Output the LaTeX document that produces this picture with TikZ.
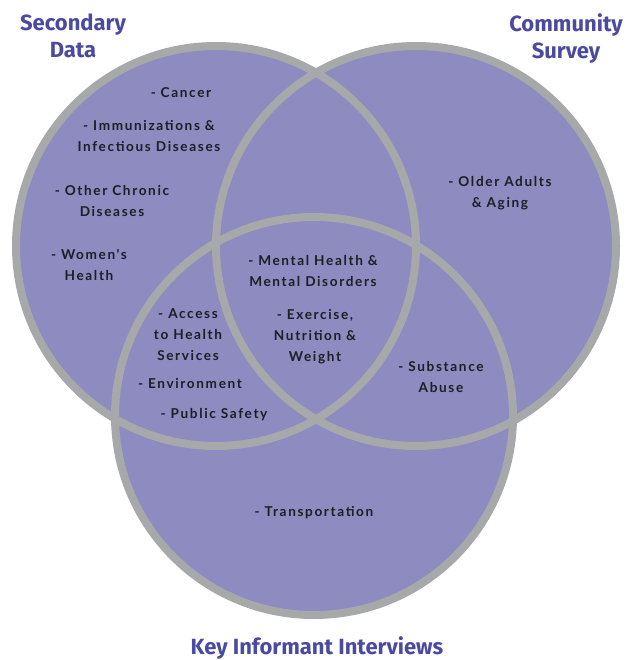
\documentclass[tikz,border=0pt]{standalone}
\usepackage{fontspec}
\setmainfont{Lato}
\newfontfamily\titlefont{Fira Sans}
\newfontfamily\itemfont[LetterSpace=12]{Lato}
\usepackage{tikz}

\definecolor{vennfill}{HTML}{8D8BBF}
\definecolor{vennline}{HTML}{A7A8AA}
\definecolor{titleblue}{HTML}{4A4AA0}
\definecolor{itemtext}{HTML}{1E1E26}

\tikzset{
  title/.style={align=center,text=titleblue,inner sep=0pt,
    font=\titlefont\bfseries\fontsize{22}{27}\selectfont},
  item/.style={align=center,text=itemtext,inner sep=0pt,
    font=\itemfont\bfseries\fontsize{13.6}{21}\selectfont}
}

\begin{document}
\begin{tikzpicture}[x=1pt,y=-1pt]
\useasboundingbox (0,0) rectangle (636,660);
% the three sets
\fill[vennfill] (216,246) circle (200) (416,246) circle (200) (314,416) circle (199);
\draw[vennline,line width=8pt] (216,246) circle (200);
\draw[vennline,line width=8pt] (416,246) circle (200);
\draw[vennline,line width=8pt] (314,416) circle (199);
% set names
\node[title] (secondary) at (73,36) {Secondary\\Data};
\node[title] (survey) at (566,39) {Community\\Survey};
\node[title] (interviews) at (317,648) {Key Informant Interviews};
% secondary data only
\node[item] (cancer) at (181,93) {- Cancer};
\node[item] (immun) at (149,136) {- Immunizations \&\\Infectious Diseases};
\node[item] (chronic) at (112,201) {- Other Chronic\\Diseases};
\node[item] (women) at (89,265) {- Women's\\Health};
% survey only
\node[item] (older) at (500,193) {- Older Adults\\\& Aging};
% secondary data and interviews
\node[item] (access) at (188,335) {- Access\\to Health\\Services};
\node[item] (environ) at (190,384) {- Environment};
\node[item] (safety) at (214,415) {- Public Safety};
% all three
\node[item] (mental) at (313,271) {- Mental Health \&\\Mental Disorders};
\node[item] (exercise) at (315,337) {- Exercise,\\Nutrition \&\\Weight};
% survey and interviews
\node[item] (substance) at (441,377) {- Substance\\Abuse};
% interviews only
\node[item] (transport) at (314,513) {- Transportation};
\end{tikzpicture}
\end{document}
